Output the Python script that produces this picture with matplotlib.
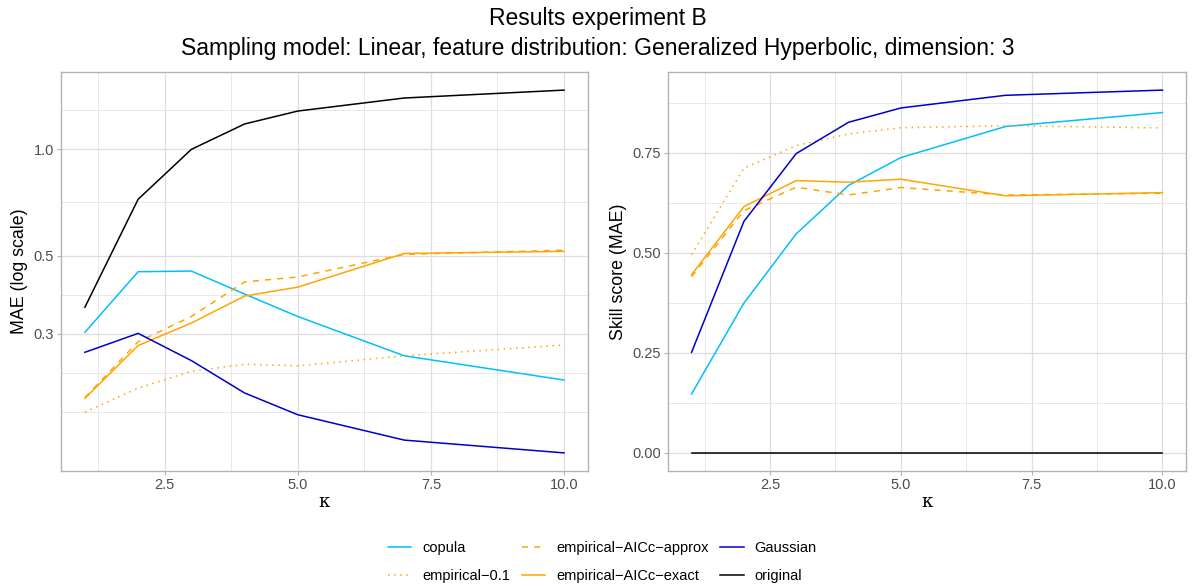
import numpy as np
import matplotlib
matplotlib.use("Agg")
import matplotlib.pyplot as plt
from matplotlib.lines import Line2D

plt.rcParams["font.family"] = ["Liberation Sans", "DejaVu Sans"]

# ── data ──────────────────────────────────────────────────────────────────────
KAPPA = [1, 2, 3, 4, 5, 7, 10]

MAE = {
    "copula":                [0.303, 0.450, 0.452, 0.389, 0.336, 0.260, 0.222],
    "empirical-0.1":         [0.180, 0.2105, 0.235, 0.246, 0.2435, 0.260, 0.279],
    "empirical-AICc-approx": [0.198, 0.285, 0.336, 0.421, 0.435, 0.504, 0.518],
    "empirical-AICc-exact":  [0.197, 0.278, 0.322, 0.384, 0.407, 0.507, 0.514],
    "Gaussian":              [0.266, 0.301, 0.252, 0.204, 0.177, 0.150, 0.138],
    "original":              [0.357, 0.722, 1.000, 1.180, 1.284, 1.398, 1.472],
}

SKILL = {
    "copula":                [0.147, 0.374, 0.547, 0.668, 0.7375, 0.815, 0.850],
    "empirical-0.1":         [0.495, 0.711, 0.7675, 0.7965, 0.812, 0.817, 0.8115],
    "empirical-AICc-approx": [0.440, 0.605, 0.6635, 0.644, 0.6627, 0.644, 0.6485],
    "empirical-AICc-exact":  [0.445, 0.615, 0.680, 0.676, 0.6835, 0.642, 0.650],
    "Gaussian":              [0.251, 0.578, 0.7475, 0.8256, 0.8614, 0.893, 0.906],
    "original":              [0.0, 0.0, 0.0, 0.0, 0.0, 0.0, 0.0],
}

METHODS = ["copula", "empirical-0.1", "empirical-AICc-approx",
           "empirical-AICc-exact", "Gaussian", "original"]

STYLE = {
    "copula":                dict(color="#00BFFF", ls="-"),
    "empirical-0.1":         dict(color="#FFA500", ls=(0, (1, 3))),
    "empirical-AICc-approx": dict(color="#FFA500", ls=(0, (4, 4))),
    "empirical-AICc-exact":  dict(color="#FFA500", ls="-"),
    "Gaussian":              dict(color="#0000CD", ls="-"),
    "original":              dict(color="black", ls="-"),
}

X_BREAKS = [2.5, 5.0, 7.5, 10.0]
LOG_BREAKS = [0.3, 0.5, 1.0]
SKILL_BREAKS = [0.0, 0.25, 0.5, 0.75]

GRID = "#DEDEDE"
BORDER = "#B3B3B3"
LW = 1.1


def _minor(breaks, lo, hi):
    """ggplot-like regular minor breaks (in transformed space)."""
    b = list(breaks)
    d = b[1] - b[0]
    if lo < b[0]:
        b = [b[0] - d] + b
    if hi > b[-1]:
        b = b + [b[-1] + d]
    out = []
    for a, c in zip(b[:-1], b[1:]):
        out += [a, (a + c) / 2, c]
    return sorted(set(v for v in out if lo <= v <= hi and
                      not any(abs(v - m) < 1e-9 for m in breaks)))


def _limits(vals, mult=0.05):
    lo, hi = min(vals), max(vals)
    pad = (hi - lo) * mult
    return lo - pad, hi + pad


def style_axes(ax):
    ax.set_facecolor("white")
    for s in ax.spines.values():
        s.set_color(BORDER)
        s.set_linewidth(1.0)
    ax.tick_params(axis="both", which="major", color=BORDER, length=3,
                   width=0.8, labelsize=10.5, labelcolor="#4D4D4D", pad=2)
    ax.tick_params(axis="both", which="minor", length=0)
    ax.set_axisbelow(True)


def draw_xgrid(ax, xlo, xhi):
    for v in X_BREAKS:
        ax.axvline(v, color=GRID, lw=0.9, zorder=0)
    for v in _minor(X_BREAKS, xlo, xhi):
        ax.axvline(v, color=GRID, lw=0.5, zorder=0)
    ax.set_xlim(xlo, xhi)
    ax.set_xticks(X_BREAKS)
    ax.set_xticklabels([f"{v:.1f}" for v in X_BREAKS])
    ax.set_xlabel("κ", fontsize=13, family="DejaVu Serif", labelpad=1)


fig = plt.figure(figsize=(11.95, 5.86), dpi=100)

xlo, xhi = _limits(KAPPA, 0.05)

# ── left panel: MAE on log scale ─────────────────────────────────────────────
ax1 = fig.add_axes([0.0510, 0.1962, 0.4410, 0.6810])
style_axes(ax1)
ax1.set_yscale("log")
all_mae = np.log10(np.concatenate([MAE[m] for m in METHODS]))
llo, lhi = _limits(all_mae, 0.05)
ax1.set_ylim(10 ** llo, 10 ** lhi)
lb = list(np.log10(LOG_BREAKS))
for v in lb:
    ax1.axhline(10 ** v, color=GRID, lw=0.9, zorder=0)
for v in _minor(lb, llo, lhi):
    ax1.axhline(10 ** v, color=GRID, lw=0.5, zorder=0)
ax1.yaxis.set_minor_locator(matplotlib.ticker.NullLocator())
ax1.set_yticks(LOG_BREAKS)
ax1.set_yticklabels([f"{v:.1f}" for v in LOG_BREAKS])
draw_xgrid(ax1, xlo, xhi)
for m in METHODS:
    ax1.plot(KAPPA, MAE[m], lw=LW, **STYLE[m], zorder=3)
ax1.set_ylabel("MAE (log scale)", fontsize=12.8, labelpad=4)

# ── right panel: skill score ────────────────────────────────────────────────
ax2 = fig.add_axes([0.5590, 0.1962, 0.4335, 0.6810])
style_axes(ax2)
all_sk = np.concatenate([SKILL[m] for m in METHODS])
slo, shi = _limits(all_sk, 0.05)
ax2.set_ylim(slo, shi)
for v in SKILL_BREAKS:
    ax2.axhline(v, color=GRID, lw=0.9, zorder=0)
for v in _minor(SKILL_BREAKS, slo, shi):
    ax2.axhline(v, color=GRID, lw=0.5, zorder=0)
ax2.set_yticks(SKILL_BREAKS)
ax2.set_yticklabels([f"{v:.2f}" for v in SKILL_BREAKS])
draw_xgrid(ax2, xlo, xhi)
for m in METHODS:
    ax2.plot(KAPPA, SKILL[m], lw=LW, **STYLE[m], zorder=3)
ax2.set_ylabel("Skill score (MAE)", fontsize=12.8, labelpad=4)

# ── titles & legend ─────────────────────────────────────────────────────────
fig.text(0.5, 0.968, "Results experiment B", ha="center", va="center",
         fontsize=16.5)
fig.text(0.5, 0.918,
         "Sampling model: Linear, feature distribution: Generalized "
         "Hyperbolic, dimension: 3",
         ha="center", va="center", fontsize=16.5)

handles = [Line2D([], [], lw=LW, **STYLE[m]) for m in METHODS]
labels = [m.replace("-", "\u2212") for m in METHODS]
fig.legend(handles, labels, loc="center", bbox_to_anchor=(0.504, 0.041),
           ncol=3, frameon=False, fontsize=10.5, handlelength=1.6,
           columnspacing=0.8, handletextpad=0.75, labelspacing=0.95)

fig.savefig("out.png", dpi=100)
